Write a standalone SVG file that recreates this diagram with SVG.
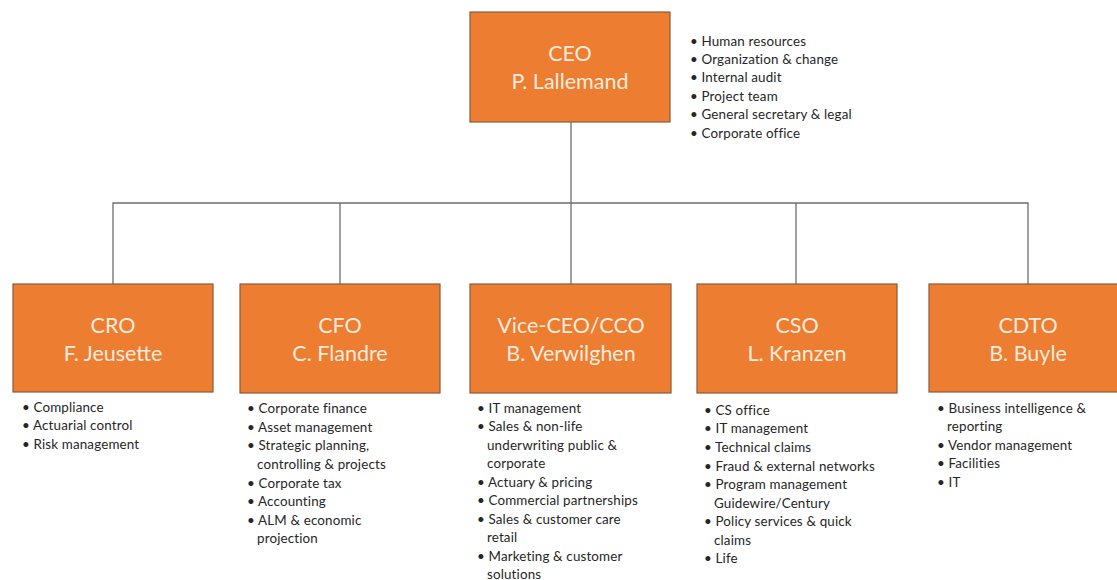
<svg xmlns="http://www.w3.org/2000/svg" width="1117" height="580" viewBox="0 0 1117 580">
  <style>
    .box { fill: #ED7D31; stroke: #8a5a3a; stroke-width: 1.2; }
    .title { font-family: Lato, "Open Sans", sans-serif; font-size: 21.5px; fill: #FCEBDD; text-anchor: middle; }
    .item { font-family: Lato, "Open Sans", sans-serif; font-size: 13.4px; letter-spacing: 0.15px; fill: #262626; }
    .link { fill: none; stroke: #6e6e6e; stroke-width: 1.3; }
  </style>
  <rect width="1117" height="580" fill="#ffffff"/>

  <!-- connectors -->
  <g id="connectors">
    <path class="link" d="M571 122 V203"/>
    <path class="link" d="M113 284 V203 H1028 V284"/>
    <path class="link" d="M340 203 V284"/>
    <path class="link" d="M571 203 V284"/>
    <path class="link" d="M796 203 V284"/>
  </g>

  <!-- CEO -->
  <g id="ceo">
    <rect class="box" x="470" y="12" width="200" height="110"/>
    <text class="title" x="570" y="61">CEO</text>
    <text class="title" x="570" y="89">P. Lallemand</text>
    <text class="item" x="690" y="46">• Human resources</text>
    <text class="item" x="690" y="64">• Organization &amp; change</text>
    <text class="item" x="690" y="82">• Internal audit</text>
    <text class="item" x="690" y="101">• Project team</text>
    <text class="item" x="690" y="119">• General secretary &amp; legal</text>
    <text class="item" x="690" y="138">• Corporate office</text>
  </g>

  <!-- CRO -->
  <g id="cro">
    <rect class="box" x="13" y="284" width="200" height="108"/>
    <text class="title" x="113" y="333">CRO</text>
    <text class="title" x="113" y="361">F. Jeusette</text>
    <text class="item" x="22" y="412">• Compliance</text>
    <text class="item" x="22" y="430">• Actuarial control</text>
    <text class="item" x="22" y="449">• Risk management</text>
  </g>

  <!-- CFO -->
  <g id="cfo">
    <rect class="box" x="240" y="284" width="200" height="109"/>
    <text class="title" x="340" y="333">CFO</text>
    <text class="title" x="340" y="361">C. Flandre</text>
    <text class="item" x="247" y="413">• Corporate finance</text>
    <text class="item" x="247" y="432">• Asset management</text>
    <text class="item" x="247" y="450">• Strategic planning,</text>
    <text class="item" x="257" y="469">controlling &amp; projects</text>
    <text class="item" x="247" y="488">• Corporate tax</text>
    <text class="item" x="247" y="506">• Accounting</text>
    <text class="item" x="247" y="525">• ALM &amp; economic</text>
    <text class="item" x="257" y="543">projection</text>
  </g>

  <!-- Vice-CEO / CCO -->
  <g id="vice-ceo">
    <rect class="box" x="470" y="284" width="201" height="109"/>
    <text class="title" x="571" y="333">Vice-CEO/CCO</text>
    <text class="title" x="571" y="361">B. Verwilghen</text>
    <text class="item" x="477" y="413">• IT management</text>
    <text class="item" x="477" y="431">• Sales &amp; non-life</text>
    <text class="item" x="487" y="450">underwriting  public &amp;</text>
    <text class="item" x="487" y="468">corporate</text>
    <text class="item" x="477" y="487">• Actuary &amp; pricing</text>
    <text class="item" x="477" y="505">• Commercial partnerships</text>
    <text class="item" x="477" y="524">• Sales &amp; customer care</text>
    <text class="item" x="487" y="542">retail</text>
    <text class="item" x="477" y="561">• Marketing  &amp; customer</text>
    <text class="item" x="487" y="579">solutions</text>
  </g>

  <!-- CSO -->
  <g id="cso">
    <rect class="box" x="697" y="284" width="200" height="109"/>
    <text class="title" x="797" y="333">CSO</text>
    <text class="title" x="797" y="361">L. Kranzen</text>
    <text class="item" x="704" y="415">• CS office</text>
    <text class="item" x="704" y="433">• IT management</text>
    <text class="item" x="704" y="452">• Technical claims</text>
    <text class="item" x="704" y="471">• Fraud &amp; external networks</text>
    <text class="item" x="704" y="489">• Program  management</text>
    <text class="item" x="714" y="508">Guidewire/Century</text>
    <text class="item" x="704" y="526">• Policy services &amp; quick</text>
    <text class="item" x="714" y="545">claims</text>
    <text class="item" x="704" y="563">• Life</text>
  </g>

  <!-- CDTO -->
  <g id="cdto">
    <rect class="box" x="929" y="284" width="200" height="108"/>
    <text class="title" x="1028" y="333">CDTO</text>
    <text class="title" x="1028" y="361">B. Buyle</text>
    <text class="item" x="937" y="413">• Business intelligence &amp;</text>
    <text class="item" x="947" y="431">reporting</text>
    <text class="item" x="937" y="450">• Vendor  management</text>
    <text class="item" x="937" y="468">• Facilities</text>
    <text class="item" x="937" y="487">• IT</text>
  </g>
</svg>
